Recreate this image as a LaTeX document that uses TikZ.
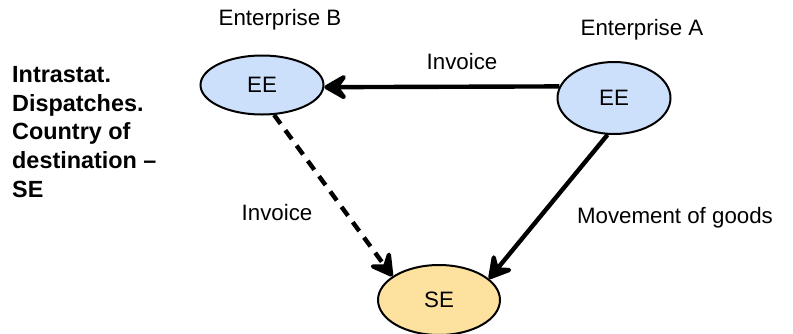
\documentclass[tikz,border=0pt]{standalone}
\usepackage{fontspec}
\setmainfont{Liberation Sans}
\usetikzlibrary{shapes.geometric,arrows.meta}
\definecolor{eeblue}{HTML}{CCE0FC}
\definecolor{seorange}{HTML}{FDE29F}
\tikzset{
  ent/.style={ellipse,draw=black,line width=2pt,inner sep=0pt,font=\fontsize{22.3}{26}\selectfont},
  lbl/.style={font=\fontsize{22.3}{26}\selectfont,inner sep=0pt},
  arr/.style={line width=4.4pt,-{Stealth[length=29pt,width=33pt,inset=12pt,round]}},
}
\begin{document}
\begin{tikzpicture}[x=1pt,y=-1pt]
\useasboundingbox (0,0) rectangle (793,333);
\node[ent,fill=eeblue,minimum width=123pt,minimum height=59pt] (B) at (262,85) {EE};
\node[ent,fill=eeblue,minimum width=113pt,minimum height=72pt] (A) at (614,98) {EE};
\node[ent,fill=seorange,minimum width=122pt,minimum height=70pt] (S) at (439,300) {SE};
\node[lbl] (tB) at (280,20) {Enterprise B};
\node[lbl] (tA) at (642,30) {Enterprise A};
\node[lbl] (inv1) at (462,62) {Invoice};
\node[lbl] (inv2) at (277,213) {Invoice};
\node[lbl] (mov) at (675,218) {Movement of goods};
\node[lbl,anchor=north west,align=left,font=\fontsize{23.4}{28.7}\selectfont\bfseries] (note) at (12,66)
  {Intrastat.\\Dispatches.\\Country of\\destination –\\SE};
\draw[arr] (A.168) -- (B.-2);
\draw[arr,dashed,dash pattern=on 11pt off 8pt] (B.-68) -- (S.153);
\draw[arr] (A.-100) -- (S.23);
\end{tikzpicture}
\end{document}
